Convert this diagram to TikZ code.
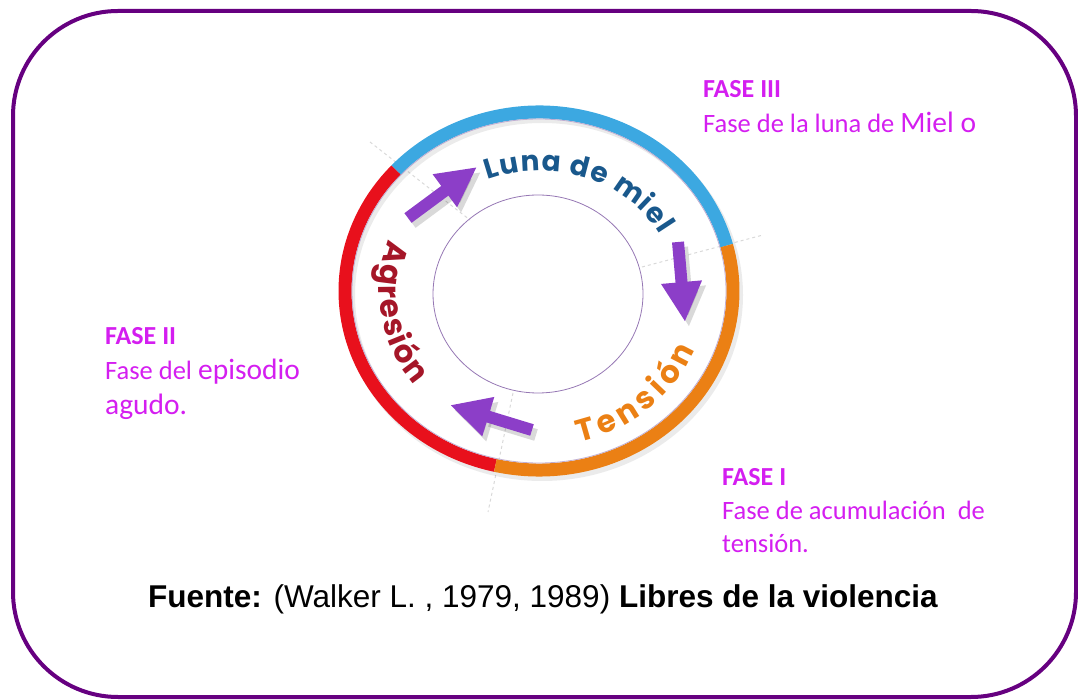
\documentclass[tikz,border=0pt]{standalone}
\usepackage{fontspec}
\setmainfont{Carlito}
\newfontfamily\fuentefont{Liberation Sans}
\newfontfamily\ringfont{Poppins}
\usetikzlibrary{arrows.meta, decorations.text, positioning, calc}
\definecolor{marco}{RGB}{102,0,128}
\definecolor{fase}{RGB}{212,30,240}
\definecolor{lunablue}{RGB}{60,168,225}
\definecolor{tensorange}{RGB}{235,128,20}
\definecolor{agrered}{RGB}{232,16,28}
\definecolor{lunatext}{RGB}{25,88,140}
\definecolor{agretext}{RGB}{165,22,40}
\definecolor{flecha}{RGB}{140,62,200}
\definecolor{centro}{RGB}{150,120,180}

\begin{document}
\begin{tikzpicture}[x=1pt,y=1pt,
  fasetitle/.style={anchor=base west,inner sep=0,text=fase,font=\fontsize{26}{26}\selectfont\bfseries},
  fasetext/.style={anchor=base west,inner sep=0,text=fase,font=\fontsize{26.5}{26.5}\selectfont},
  flechita/.style={line width=12pt,flecha,-{Triangle[width=38pt,length=40pt]}},
  sombra/.style={line width=12pt,black,opacity=0.15,-{Triangle[width=38pt,length=40pt]}},
  guia/.style={gray!30,dashed,line width=1pt}]
\useasboundingbox (0,0) rectangle (1078,699);
\draw[marco,line width=4pt,rounded corners=105pt] (13,2) rectangle (1076,688);

\coordinate (c) at (539,408);
% faint guide lines
\draw[guia] (370,557) -- (470,479);
\draw[guia] (642,432) -- (763,464);
\draw[guia] (513,306) -- (488,187);

% ring
\draw[black,opacity=0.08,line width=14pt] ($(c)+(3,-4)$) ellipse [x radius=194,y radius=179];
\foreach \a/\b/\col in {14.7/137.5/lunablue, 137.5/257/agrered, 257/374.7/tensorange} {
  \draw[\col,line width=13pt] ($(c)+(\a:194 and 179)$) arc[start angle=\a,end angle=\b,x radius=194,y radius=179];
}
\draw[centro!60,line width=0.8pt] (c) ellipse [x radius=187,y radius=172];
\draw[centro,line width=0.8pt] (538,405) ellipse [x radius=105,y radius=99];

% ring labels
\path[decorate,decoration={text along path,text align=fit to path,
  text={|\ringfont\fontsize{28}{28}\selectfont\bfseries\color{lunatext}|Luna de miel}}]
  ($(c)+(112:137 and 120)$) arc[start angle=112,end angle=28,x radius=137,y radius=120];
\path[decorate,decoration={text along path,text align=fit to path,
  text={|\ringfont\fontsize{31}{31}\selectfont\bfseries\color{tensorange}|Tensión}}]
  ($(c)+(-76:168 and 156)$) arc[start angle=-76,end angle=-22,x radius=168,y radius=156];
\path[decorate,decoration={text along path,text align=fit to path,
  text={|\ringfont\fontsize{31}{31}\selectfont\bfseries\color{agretext}|Agresión}}]
  ($(c)+(160:160 and 149)$) arc[start angle=160,end angle=219,x radius=160,y radius=149];

% arrows
\coordinate (f1a) at (408,481); \coordinate (f1b) at (477,532);
\coordinate (f2a) at (678,457); \coordinate (f2b) at (685,377);
\coordinate (f3a) at (532,269); \coordinate (f3b) at (450,294);
\foreach \s/\e in {f1a/f1b, f2a/f2b, f3a/f3b} {
  \draw[sombra] ($(\s)+(4,-5)$) -- ($(\e)+(4,-5)$);
  \draw[flechita] (\s) -- (\e);
}

% phase texts
\node[fasetitle] (f3t) at (703,601) {FASE III};
\node[fasetext] (f3d) at (703,566) {Fase de la luna de {\fontsize{29.5}{29.5}\selectfont Miel o}};
\node[fasetitle] (f2t) at (105,354) {FASE II};
\node[fasetext] (f2d) at (105,319) {Fase del {\fontsize{29.5}{29.5}\selectfont episodio}};
\node[fasetext,font=\fontsize{29.5}{29.5}\selectfont] (f2e) at (105,284) {agudo.};
\node[fasetitle] (f1t) at (722,214) {FASE I};
\node[fasetext] (f1d) at (722,179) {Fase de acumulación\ \ de};
\node[fasetext] (f1e) at (722,147) {tensión.};

\node[anchor=base,inner sep=0,font=\fuentefont\fontsize{31.5}{31.5}\selectfont] (fuente) at (543,92)
  {\textbf{Fuente:} (Walker L. , 1979, 1989) \textbf{Libres de la violencia}};
\end{tikzpicture}
\end{document}
